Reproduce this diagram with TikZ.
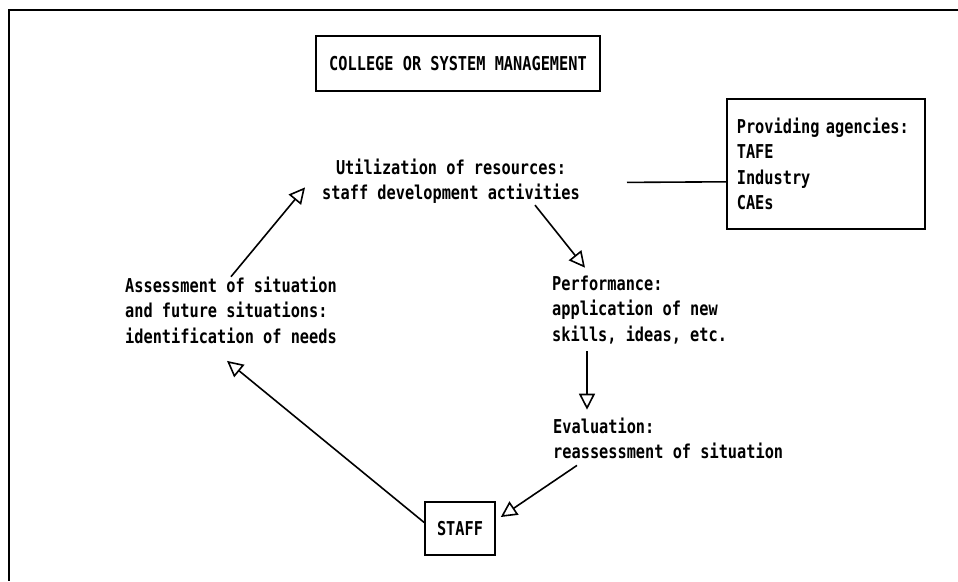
\documentclass[tikz,border=0pt]{standalone}
\usepackage{fontspec}
\usetikzlibrary{arrows.meta}
\newfontfamily\typefont[FakeStretch=0.8]{DejaVu Sans Mono Bold}
\begin{document}
\begin{tikzpicture}[x=1pt,y=-1pt,
  every node/.style={font={\typefont\fontsize{19.1pt}{25.5pt}\selectfont},inner sep=0pt},
  txt/.style={align=left},
  box/.style={draw,line width=1.6pt,align=center},
  flow/.style={line width=1.6pt,-{Triangle[open,length=16pt,width=16pt,line width=1.6pt]}},
  link/.style={line width=1.6pt},
  frame/.style={line width=1.8pt}]
\useasboundingbox (0,0) rectangle (958,581);

% page frame (top and left edges)
\draw[frame] (958,10) -- (9,10) -- (9,581);

% boxes
\node[box,minimum width=284pt,minimum height=55pt] (mgmt) at (458,63.5) {COLLEGE OR SYSTEM MANAGEMENT};
\node[box,minimum width=70pt,minimum height=53pt] (staff) at (460,528.5) {STAFF};
\node[draw,line width=1.6pt,anchor=north west,minimum width=198pt,minimum height=130pt,
      text width=178pt,inner xsep=10pt,align=left] (prov) at (726,98)
  {Providing agencies:\\TAFE\\Industry\\CAEs};

% cycle stages
\node[anchor=north,align=center] (util) at (451,158.7)
  {Utilization of resources:\\staff development activities};
\node[txt,anchor=north west] (perf) at (552,275.7)
  {Performance:\\application of new\\skills, ideas, etc.};
\node[txt,anchor=north west] (eval) at (553,417.7)
  {Evaluation:\\reassessment of situation};
\node[txt,anchor=north west] (assess) at (125,276.7)
  {Assessment of situation\\and future situations:\\identification of needs};

% connectors
\draw[flow] ([shift={(0,-6)}]staff.west) -- ([shift={(-4,17)}]assess.south);
\draw[flow] (assess.north) -- ([shift={(-17,6)}]util.west);
\draw[flow] ([shift={(-45,1)}]util.south east) -- ([shift={(33,-8)}]perf.north west);
\draw[flow] ([shift={(35,7)}]perf.south west) -- ([shift={(34,-8)}]eval.north west);
\draw[flow] ([shift={(24,6)}]eval.south west) -- ([shift={(5,-11.5)}]staff.east);
\draw[link] ([shift={(47,1)}]util.east) -- ([shift={(0,18)}]prov.west);
\end{tikzpicture}
\end{document}
